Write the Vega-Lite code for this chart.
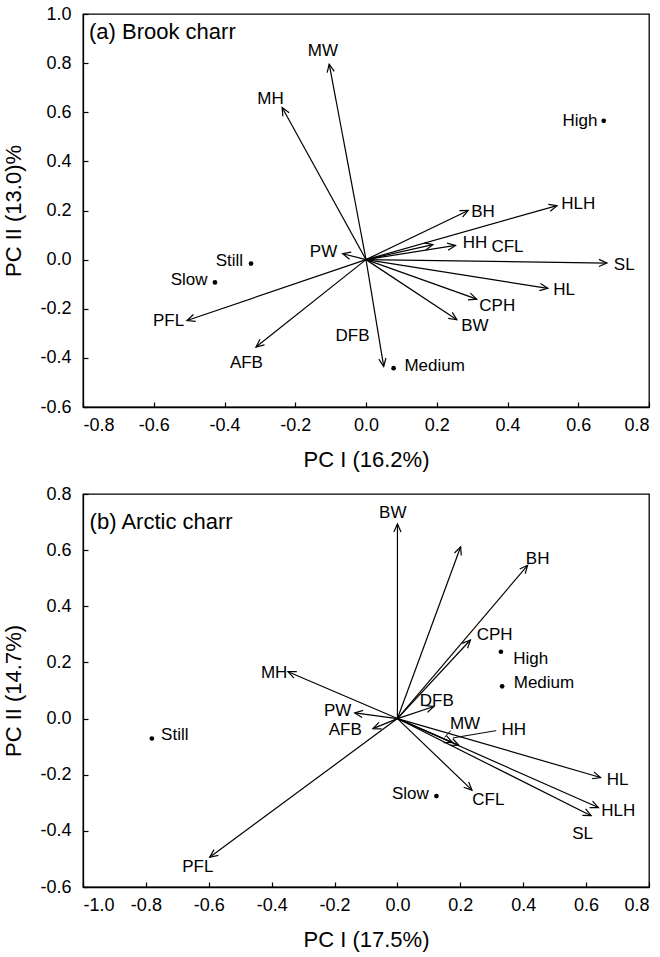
{
  "$schema": "https://vega.github.io/schema/vega-lite/v6.json",
  "padding": {"left": 2, "top": 4, "right": 5, "bottom": 5},
  "spacing": 13,
  "config": {
    "font": "Liberation Sans",
    "view": {"stroke": "black", "strokeWidth": 1.3},
    "axis": {
      "grid": false,
      "domainColor": "black",
      "domainWidth": 1.3,
      "tickColor": "black",
      "tickWidth": 1.2,
      "tickSize": -5,
      "labelFont": "Liberation Sans",
      "labelFontSize": 18,
      "labelColor": "black",
      "titleFont": "Liberation Sans",
      "titleFontSize": 22,
      "titleFontWeight": "normal",
      "titleColor": "black",
      "labelExpr": "replace(format(datum.value, '.1f'), '\u2212', '-')"
    },
    "axisX": {"labelPadding": 14, "titlePadding": 15},
    "axisY": {"labelPadding": 17, "titlePadding": 14},
    "text": {"font": "Liberation Sans", "fontSize": 17, "color": "black"}
  },
  "datasets": {
    "arrowsA": [
      {"name": "MW", "x": -0.104, "y": 0.796, "lx": -0.122, "ly": 0.85},
      {"name": "MH", "x": -0.237, "y": 0.619, "lx": -0.27, "ly": 0.655},
      {"name": "BH", "x": 0.289, "y": 0.2, "lx": 0.331, "ly": 0.195},
      {"name": "HLH", "x": 0.54, "y": 0.22, "lx": 0.6, "ly": 0.225},
      {"name": "HH", "x": 0.253, "y": 0.058, "lx": 0.308, "ly": 0.068},
      {"name": "CFL", "x": 0.189, "y": 0.061, "lx": 0.4, "ly": 0.05},
      {"name": "PW", "x": -0.066, "y": 0.024, "lx": -0.12, "ly": 0.03},
      {"name": "SL", "x": 0.681, "y": -0.014, "lx": 0.73, "ly": -0.02},
      {"name": "HL", "x": 0.514, "y": -0.117, "lx": 0.56, "ly": -0.122},
      {"name": "CPH", "x": 0.313, "y": -0.161, "lx": 0.371, "ly": -0.19},
      {"name": "BW", "x": 0.257, "y": -0.245, "lx": 0.308, "ly": -0.272},
      {"name": "PFL", "x": -0.506, "y": -0.248, "lx": -0.558, "ly": -0.25},
      {"name": "AFB", "x": -0.311, "y": -0.356, "lx": -0.338, "ly": -0.42},
      {"name": "DFB", "x": 0.05, "y": -0.435, "lx": -0.038, "ly": -0.31}
    ],
    "sitesA": [
      {"name": "High", "x": 0.672, "y": 0.565, "lx": 0.605, "ly": 0.565},
      {"name": "Still", "x": -0.325, "y": -0.016, "lx": -0.386, "ly": -0.005},
      {"name": "Slow", "x": -0.427, "y": -0.093, "lx": -0.5, "ly": -0.084},
      {"name": "Medium", "x": 0.078, "y": -0.442, "lx": 0.194, "ly": -0.435}
    ],
    "titleA": [{"label": "(a) Brook charr", "x": -0.783, "y": 0.925}],
    "arrowsB": [
      {"name": "BW", "x": 0.0, "y": 0.693, "lx": -0.015, "ly": 0.731},
      {"name": "", "x": 0.201, "y": 0.612, "lx": 0.201, "ly": 0.612},
      {"name": "BH", "x": 0.414, "y": 0.546, "lx": 0.446, "ly": 0.568},
      {"name": "CPH", "x": 0.232, "y": 0.28, "lx": 0.309, "ly": 0.298},
      {"name": "MH", "x": -0.348, "y": 0.167, "lx": -0.392, "ly": 0.163},
      {"name": "DFB", "x": 0.116, "y": 0.043, "lx": 0.125, "ly": 0.062},
      {"name": "PW", "x": -0.136, "y": 0.02, "lx": -0.19, "ly": 0.026},
      {"name": "AFB", "x": -0.078, "y": -0.036, "lx": -0.166, "ly": -0.039},
      {"name": "MW", "x": 0.175, "y": -0.085, "lx": 0.215, "ly": -0.018},
      {"name": "HH", "x": 0.195, "y": -0.095, "lx": 0.37, "ly": -0.04},
      {"name": "HL", "x": 0.646, "y": -0.21, "lx": 0.7, "ly": -0.218},
      {"name": "HLH", "x": 0.639, "y": -0.317, "lx": 0.702, "ly": -0.331},
      {"name": "SL", "x": 0.616, "y": -0.346, "lx": 0.589, "ly": -0.412},
      {"name": "CFL", "x": 0.237, "y": -0.255, "lx": 0.289, "ly": -0.289},
      {"name": "PFL", "x": -0.597, "y": -0.494, "lx": -0.635, "ly": -0.527}
    ],
    "leadersB": [
      {"x": 0.169, "y": -0.043, "x2": 0.15, "y2": -0.067},
      {"x": 0.314, "y": -0.043, "x2": 0.176, "y2": -0.069}
    ],
    "sitesB": [
      {"name": "High", "x": 0.329, "y": 0.238, "lx": 0.424, "ly": 0.211},
      {"name": "Medium", "x": 0.333, "y": 0.115, "lx": 0.466, "ly": 0.127},
      {"name": "Still", "x": -0.781, "y": -0.071, "lx": -0.708, "ly": -0.057},
      {"name": "Slow", "x": 0.124, "y": -0.276, "lx": 0.041, "ly": -0.269}
    ],
    "titleB": [{"label": "(b) Arctic charr", "x": -0.979, "y": 0.702}]
  },
  "vconcat": [
    {
      "width": 566,
      "height": 393,
      "layer": [
        {
          "data": {"name": "arrowsA"},
          "mark": {"type": "rule", "color": "black", "strokeWidth": 1.2},
          "encoding": {
            "x": {"field": "x", "type": "quantitative",
                  "scale": {"domain": [-0.8, 0.8], "nice": false, "zero": false},
                  "axis": {"values": [-0.8, -0.6, -0.4, -0.2, 0, 0.2, 0.4, 0.6, 0.8], "title": "PC I (16.2%)"}},
            "y": {"field": "y", "type": "quantitative",
                  "scale": {"domain": [-0.6, 1.0], "nice": false, "zero": false},
                  "axis": {"values": [-0.6, -0.4, -0.2, 0, 0.2, 0.4, 0.6, 0.8, 1.0], "title": "PC II (13.0)%"}},
            "x2": {"datum": 0},
            "y2": {"datum": 0}
          }
        },
        {
          "data": {"name": "arrowsA"},
          "mark": {"type": "point", "shape": "M-0.45,1L0,0L0.45,1", "filled": false, "stroke": "black", "strokeWidth": 1.2, "size": 256, "opacity": 1,
                   "angle": {"expr": "atan2(datum.x*353, datum.y*245)*180/PI"}},
          "encoding": {
            "x": {"field": "x", "type": "quantitative"},
            "y": {"field": "y", "type": "quantitative"}
          }
        },
        {
          "data": {"name": "arrowsA"},
          "mark": {"type": "text", "baseline": "middle", "align": "center"},
          "encoding": {
            "x": {"field": "lx", "type": "quantitative"},
            "y": {"field": "ly", "type": "quantitative"},
            "text": {"field": "name"}
          }
        },
        {
          "data": {"name": "sitesA"},
          "mark": {"type": "point", "shape": "circle", "filled": true, "color": "black", "size": 22, "opacity": 1},
          "encoding": {
            "x": {"field": "x", "type": "quantitative"},
            "y": {"field": "y", "type": "quantitative"}
          }
        },
        {
          "data": {"name": "sitesA"},
          "mark": {"type": "text", "baseline": "middle", "align": "center"},
          "encoding": {
            "x": {"field": "lx", "type": "quantitative"},
            "y": {"field": "ly", "type": "quantitative"},
            "text": {"field": "name"}
          }
        },
        {
          "data": {"name": "titleA"},
          "mark": {"type": "text", "baseline": "middle", "align": "left", "fontSize": 22},
          "encoding": {
            "x": {"field": "x", "type": "quantitative"},
            "y": {"field": "y", "type": "quantitative"},
            "text": {"field": "label"}
          }
        }
      ]
    },
    {
      "width": 566,
      "height": 393,
      "layer": [
        {
          "data": {"name": "arrowsB"},
          "mark": {"type": "rule", "color": "black", "strokeWidth": 1.2},
          "encoding": {
            "x": {"field": "x", "type": "quantitative",
                  "scale": {"domain": [-1.0, 0.8], "nice": false, "zero": false},
                  "axis": {"values": [-1.0, -0.8, -0.6, -0.4, -0.2, 0, 0.2, 0.4, 0.6, 0.8], "title": "PC I (17.5%)"}},
            "y": {"field": "y", "type": "quantitative",
                  "scale": {"domain": [-0.6, 0.8], "nice": false, "zero": false},
                  "axis": {"values": [-0.6, -0.4, -0.2, 0, 0.2, 0.4, 0.6, 0.8], "title": "PC II (14.7%)"}},
            "x2": {"datum": 0},
            "y2": {"datum": 0}
          }
        },
        {
          "data": {"name": "leadersB"},
          "mark": {"type": "rule", "color": "black", "strokeWidth": 1},
          "encoding": {
            "x": {"field": "x", "type": "quantitative"},
            "y": {"field": "y", "type": "quantitative"},
            "x2": {"field": "x2"},
            "y2": {"field": "y2"}
          }
        },
        {
          "data": {"name": "arrowsB"},
          "mark": {"type": "point", "shape": "M-0.45,1L0,0L0.45,1", "filled": false, "stroke": "black", "strokeWidth": 1.2, "size": 256, "opacity": 1,
                   "angle": {"expr": "atan2(datum.x*314, datum.y*280)*180/PI"}},
          "encoding": {
            "x": {"field": "x", "type": "quantitative"},
            "y": {"field": "y", "type": "quantitative"}
          }
        },
        {
          "data": {"name": "arrowsB"},
          "mark": {"type": "text", "baseline": "middle", "align": "center"},
          "encoding": {
            "x": {"field": "lx", "type": "quantitative"},
            "y": {"field": "ly", "type": "quantitative"},
            "text": {"field": "name"}
          }
        },
        {
          "data": {"name": "sitesB"},
          "mark": {"type": "point", "shape": "circle", "filled": true, "color": "black", "size": 22, "opacity": 1},
          "encoding": {
            "x": {"field": "x", "type": "quantitative"},
            "y": {"field": "y", "type": "quantitative"}
          }
        },
        {
          "data": {"name": "sitesB"},
          "mark": {"type": "text", "baseline": "middle", "align": "center"},
          "encoding": {
            "x": {"field": "lx", "type": "quantitative"},
            "y": {"field": "ly", "type": "quantitative"},
            "text": {"field": "name"}
          }
        },
        {
          "data": {"name": "titleB"},
          "mark": {"type": "text", "baseline": "middle", "align": "left", "fontSize": 22},
          "encoding": {
            "x": {"field": "x", "type": "quantitative"},
            "y": {"field": "y", "type": "quantitative"},
            "text": {"field": "label"}
          }
        }
      ]
    }
  ]
}
